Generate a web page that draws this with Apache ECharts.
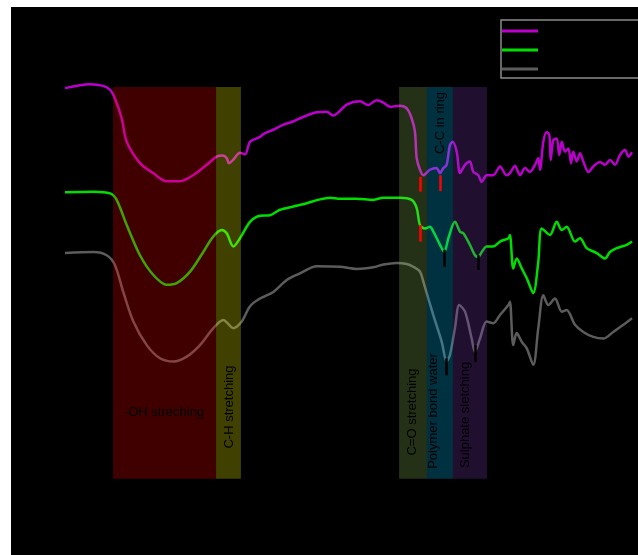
<!DOCTYPE html>
<html>
<head>
<meta charset="utf-8">
<script src="https://cdn.jsdelivr.net/npm/echarts@6/dist/echarts.min.js"></script>
<style>
html,body{margin:0;padding:0;background:#fff;}
#c{position:absolute;left:11px;top:7px;width:627px;height:548px;background:#000;}
</style>
</head>
<body>
<div id="c"></div>
<script>
// ---- data (wavenumber cm-1, transmittance a.u.) ----
const seriesNames = ['Sample 1', 'Sample 2', 'Sample 3'];
const magentaWn = [4000,3841,3757,3714,3683,3640,3608,3524,3441,3354,3270,3187,3100,3037,2997,2973,2959,2933,2889,2857,2825,2762,2741,2679,2616,2552,2508,2402,2338,2298,2211,2127,2076,2021,1981,1937,1873,1830,1799,1778,1767,1746,1725,1683,1640,1619,1598,1577,1556,1539,1513,1492,1460,1429,1408,1376,1354,1323,1281,1238,1196,1175,1143,1111,1079,1048,1016,995,984,963,942,925,916,900,878,862,846,825,804,787,773,751,730,709,677,646,603,571,540,508,476,444,423,400];
const magentaT = [85.2,85.9,85.6,84.9,83.3,79.7,75.4,71.5,69.7,68.2,68.2,69.3,71.2,72.7,72.9,72.4,71.5,72.1,73.4,73.1,75.4,76.3,76.8,77.6,78.5,79.1,79.7,80.8,80.9,80.2,82.2,82.8,82.1,83.0,82.6,81.8,82.0,81.5,79.7,77.2,72.4,70.3,69.3,70.3,70.6,69.7,70.6,71.2,74.8,75.4,73.6,69.7,71.2,71.8,69.9,69.3,68.1,69.3,69.3,70.9,69.3,69.7,71.0,69.3,70.6,69.9,71.2,72.4,70.3,75.4,77.2,76.6,72.1,75.7,76.0,73.0,75.4,73.6,74.2,71.5,73.6,71.8,73.3,71.8,69.9,70.9,71.7,71.2,72.1,71.2,73.0,73.9,72.7,73.5];
const greenWn = [4000,3820,3714,3672,3608,3524,3439,3354,3291,3206,3122,3059,3005,2973,2931,2889,2825,2762,2698,2635,2550,2465,2381,2317,2254,2148,2043,1979,1873,1799,1767,1746,1714,1683,1661,1619,1592,1566,1524,1492,1471,1429,1397,1376,1354,1323,1281,1238,1185,1175,1154,1132,1100,1068,1027,995,973,921,878,846,815,762,730,688,624,571,540,497,434,400];
const greenT = [66.2,66.3,66.0,64.8,60.2,54.7,51.1,49.3,49.6,51.7,55.3,58.1,59.3,58.7,56.3,57.8,60.8,61.9,62.0,63.0,63.6,64.2,64.9,65.2,65.0,65.0,64.8,65.2,65.2,64.8,63.3,60.2,59.6,59.9,59.0,56.6,55.3,57.8,60.8,59.0,58.7,56.6,54.7,54.4,55.3,56.3,56.3,57.2,57.8,58.4,52.3,54.1,52.3,50.5,47.8,53.5,59.6,58.4,60.8,59.3,59.9,57.2,57.8,56.0,55.1,54.1,55.3,56.0,56.6,57.2];
const grayWn = [4000,3820,3735,3683,3630,3566,3481,3397,3312,3227,3143,3058,2995,2931,2878,2825,2762,2677,2592,2508,2402,2254,2148,2043,1979,1894,1830,1789,1746,1725,1662,1608,1577,1556,1524,1497,1460,1418,1397,1365,1323,1281,1238,1185,1175,1154,1132,1100,1068,1027,995,963,931,889,846,815,762,709,646,582,519,455,400];
const grayT = [55.1,55.3,54.7,52.9,48.0,42.6,38.3,35.9,35.3,36.2,38.3,41.4,42.9,41.4,42.6,45.4,46.8,48.0,50.2,51.4,52.7,52.6,52.2,52.5,53.0,53.3,53.1,52.6,51.7,49.9,43.8,38.9,35.3,36.5,41.4,45.6,44.4,39.5,37.1,39.5,42.6,42.3,43.8,45.6,46.2,38.3,40.5,38.9,37.7,34.7,41.4,47.4,45.6,46.8,44.4,44.7,42.0,40.7,39.8,39.5,40.7,42.0,43.2];

// assignment bands
const bandNames = ['-OH streching', 'C-H stretching', 'C=O stretching', 'Polymer bond water', 'Sulphate sletching'];
const bandFrom = [3695, 3041, 1879, 1702, 1537];
const bandTo = [3041, 2883, 1702, 1537, 1321];
const bandTop = 85.4;
const bandBottom = 13.9;
const extraLabel = 'C-C in ring';

// peak tick marks
const tickWn = [1746, 1619, 1746, 1592, 1376, 1577, 1397];
const tickTop = [69.0, 69.3, 60.2, 55.7, 54.7, 35.9, 38.3];
const tickBottom = [66.3, 66.4, 57.2, 52.6, 52.0, 32.8, 35.2];
const tickColor = ['#ff0000', '#ff0000', '#ff0000', '#000000', '#000000', '#000000', '#000000'];

// ---- styles ----
const lineColors = ['#bb00cc', '#00dd00', '#5c5c5c'];
const bandColors = ['rgba(255,0,0,0.25)', 'rgba(255,255,0,0.25)', 'rgba(165,225,100,0.22)', 'rgba(0,195,255,0.25)', 'rgba(130,60,190,0.25)'];

const zip = (a, b) => a.map((v, i) => [v, b[i]]);

const chart = echarts.init(document.getElementById('c'));
const lineSeries = [[magentaWn, magentaT], [greenWn, greenT], [grayWn, grayT]].map((d, i) => ({
  name: seriesNames[i],
  type: 'line',
  data: zip(d[0], d[1]),
  showSymbol: false,
  smooth: 0.3,
  z: 2,
  lineStyle: { color: lineColors[i], width: 2.5 },
  itemStyle: { color: lineColors[i] }
}));

const bandSeries = {
  name: 'bands',
  type: 'line',
  data: [],
  z: 10,
  markArea: {
    silent: true,
    z: 10,
    label: { show: false },
    data: bandNames.map((n, i) => [
      { xAxis: bandFrom[i], yAxis: bandTop, itemStyle: { color: bandColors[i] } },
      { xAxis: bandTo[i], yAxis: bandBottom }
    ])
  }
};

const tickSeries = {
  name: 'ticks',
  type: 'line',
  data: [],
  z: 11,
  markLine: {
    silent: true,
    z: 11,
    symbol: 'none',
    label: { show: false },
    animation: false,
    data: tickWn.map((w, i) => [
      { coord: [w, tickTop[i]], lineStyle: { color: tickColor[i], width: 2.5, type: 'solid' } },
      { coord: [w, tickBottom[i]] }
    ])
  }
};

const txt = (s, x, y, rot) => ({
  type: 'text', x: x, y: y, rotation: rot, z: 100,
  style: { text: s, fill: '#000', font: '13px Arial, "Liberation Sans", sans-serif', textAlign: 'center', textVerticalAlign: 'middle' }
});

chart.setOption({
  backgroundColor: '#000',
  animation: false,
  grid: { left: 54, right: 6, top: 0, bottom: 0 },
  xAxis: {
    type: 'value', min: 400, max: 4000, inverse: true,
    axisLine: { show: false }, axisTick: { show: false }, axisLabel: { show: false }, splitLine: { show: false }
  },
  yAxis: {
    type: 'value', min: 0, max: 100,
    axisLine: { show: false }, axisTick: { show: false }, axisLabel: { show: false }, splitLine: { show: false }
  },
  legend: {
    data: seriesNames,
    orient: 'vertical',
    left: 490, top: 13,
    icon: 'rect',
    itemWidth: 36, itemHeight: 3, itemGap: 5,
    padding: [4, 60, 2, 1],
    borderColor: '#8a8a8a', borderWidth: 1.5,
    textStyle: { color: '#000', fontSize: 12, lineHeight: 14 }
  },
  series: lineSeries.concat([bandSeries, tickSeries]),
  graphic: [
    txt(bandNames[0], 153, 405, 0),
    txt(bandNames[1], 218, 400, Math.PI / 2),
    txt(bandNames[2], 401, 405, Math.PI / 2),
    txt(bandNames[3], 422, 404, Math.PI / 2),
    txt(bandNames[4], 454, 408, Math.PI / 2),
    txt(extraLabel, 429, 116, Math.PI / 2)
  ]
});
</script>
</body>
</html>
